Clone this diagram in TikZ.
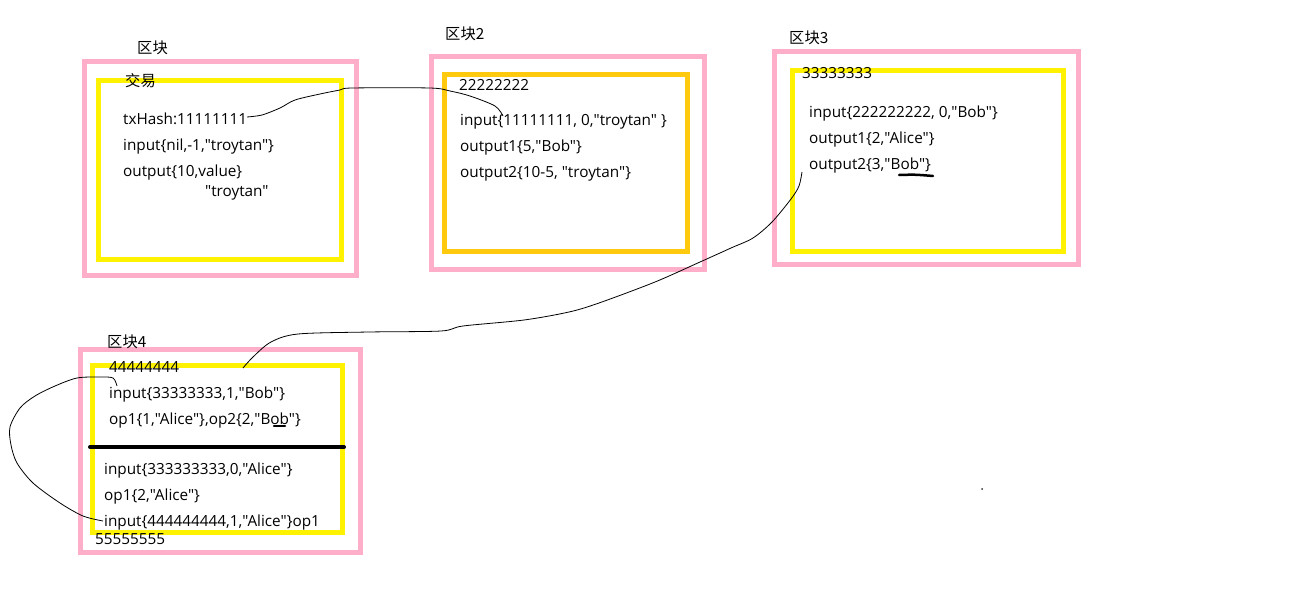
\documentclass[tikz,border=0pt]{standalone}
\usepackage{fontspec}
\setmainfont[Ligatures=TeXOff]{Open Sans}
\newfontfamily\cjk{Noto Sans CJK SC}
\definecolor{pinkc}{HTML}{FFAEC9}
\definecolor{yelc}{HTML}{FFF200}
\definecolor{orgc}{HTML}{FFC90E}
\begin{document}
\begin{tikzpicture}[x=1pt,y=-1pt,
  pinkbox/.style={draw=pinkc,line width=5pt,inner sep=0pt,rectangle},
  yelbox/.style={draw=yelc,line width=5pt,inner sep=0pt,rectangle},
  orgbox/.style={draw=orgc,line width=5pt,inner sep=0pt,rectangle},
  txt/.style={anchor=base west,inner sep=0pt,font=\fontsize{15.3}{18}\selectfont},
  curve/.style={draw=black,line width=0.8pt},
  mark line/.style={draw=black,line width=2.5pt,line cap=round}]
\useasboundingbox[fill=white] (0,0) rectangle (1309,610);
% block 1
\node[pinkbox,minimum width=272pt,minimum height=213pt] (p1) at (220,168.5) {};
\node[yelbox,minimum width=243pt,minimum height=178.5pt] (y1) at (220,169.75) {};
% block 2
\node[pinkbox,minimum width=272.5pt,minimum height=213pt] (p2) at (567.75,163) {};
\node[orgbox,minimum width=242.5pt,minimum height=177pt] (y2) at (565.75,163) {};
% block 3
\node[pinkbox,minimum width=304pt,minimum height=213pt] (p3) at (926,158) {};
\node[yelbox,minimum width=271pt,minimum height=180.5pt] (y3) at (928,160.75) {};
% block 4
\node[pinkbox,minimum width=280pt,minimum height=202.5pt] (p4) at (220.5,450.75) {};
\node[yelbox,minimum width=250pt,minimum height=166.5pt] (y4) at (217.5,448.75) {};
\coordinate (sepL) at (90,447);
\coordinate (sepR) at (344,447);
\draw[black,line width=4pt,line cap=round] (sepL) -- (sepR);

% texts block 1
\node[txt] (t1a) at (137,54) {\cjk 区块};
\node[txt] (t1b) at (125,86) {\cjk 交易};
\node[txt] (t1c) at (123,124) {txHash:11111111};
\node[txt] (t1d) at (123,150) {input\{nil,-1,"troytan"\}};
\node[txt] (t1e) at (123,176) {output\{10,value\}};
\node[txt] (t1f) at (205,196) {"troytan"};
% texts block 2
\node[txt] (t2a) at (445,40) {\cjk 区块2};
\node[txt] (t2b) at (459,91) {22222222};
\node[txt] (t2c) at (460,125) {input\{11111111, 0,"troytan" \}};
\node[txt] (t2d) at (460,151) {output1\{5,"Bob"\}};
\node[txt] (t2e) at (460,177) {output2\{10-5, "troytan"\}};
% texts block 3
\node[txt] (t3a) at (789,44) {\cjk 区块3};
\node[txt] (t3b) at (802,78) {33333333};
\node[txt] (t3c) at (809,117) {input\{222222222, 0,"Bob"\}};
\node[txt] (t3d) at (809,143) {output1\{2,"Alice"\}};
\node[txt] (t3e) at (809,169) {output2\{3,"Bob"\}};
\coordinate (u3a) at (899,175);
\coordinate (u3b) at (933,176);
\draw[mark line] (u3a) .. controls (915,174.5) .. (u3b);
% texts block 4
\node[txt] (t4a) at (107,347) {\cjk 区块4};
\node[txt] (t4b) at (109,372) {44444444};
\node[txt] (t4c) at (109,398) {input\{33333333,1,"Bob"\}};
\node[txt] (t4d) at (109,424) {op1\{1,"Alice"\},op2\{2,"Bob"\}};
\coordinate (u4a) at (274,426);
\coordinate (u4b) at (285,426);
\draw[mark line] (u4a) -- (u4b);
\node[txt] (t4e) at (104,474) {input\{333333333,0,"Alice"\}};
\node[txt] (t4f) at (104,500) {op1\{2,"Alice"\}};
\node[txt] (t4g) at (104,526) {input\{444444444,1,"Alice"\}op1};
\node[txt] (t4h) at (95,544) {55555555};

% stray dot
\coordinate (dot) at (982,489);
\fill[black!80] (dot) circle (1pt);

% hand-drawn connectors
\coordinate (c1s) at (247,117);
\coordinate (c1e) at (503,116);
\draw[curve] plot[smooth,tension=0.5] coordinates {(c1s) (262,115) (280,108) (295,100) (320,94) (340,90) (352,88) (430,88) (450,91) (470,96) (495,106) (c1e)};
\coordinate (c2s) at (802,172);
\coordinate (c2e) at (243,368);
\draw[curve] plot[smooth,tension=0.5] coordinates {(c2s) (799,186) (791,199) (772,222) (753,238) (731,248) (700,262) (655,282) (599,303) (569,312) (524,320) (463,326) (441,331) (369,332) (298,334) (271,342) (253,357) (c2e)};
\coordinate (c3s) at (117,386);
\coordinate (c3e) at (103,521);
\draw[curve] plot[smooth,tension=0.5] coordinates {(c3s) (113,378) (100,377) (77,378) (55,386) (35,396) (20,408) (10,427) (11,445) (17,463) (33,483) (60,503) (83,516) (c3e)};
\end{tikzpicture}
\end{document}
